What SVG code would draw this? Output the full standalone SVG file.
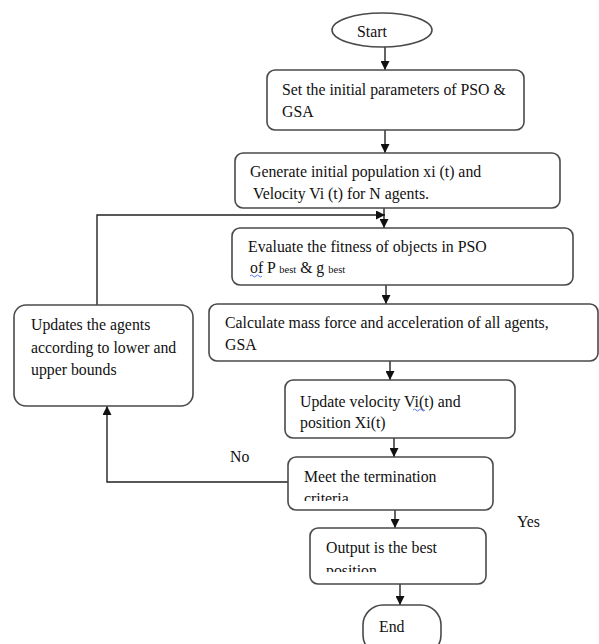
<svg xmlns="http://www.w3.org/2000/svg" width="599" height="644" viewBox="0 0 599 644">
<style>
.box{fill:#fff;stroke:#4a4a4a;stroke-width:1.6}
.t{font-family:"Liberation Serif","Times New Roman",serif;font-size:15.8px;fill:#111}
.sub{font-size:10.5px}
.c{fill:none;stroke:#222;stroke-width:1.4}
.sq{fill:none;stroke:#3355ee;stroke-width:0.8}
</style>
<defs>
<marker id="ah" viewBox="0 0 10 10" refX="10" refY="5" markerWidth="9" markerHeight="9" markerUnits="userSpaceOnUse" orient="auto">
<path d="M0,0 L10,5 L0,10 z" fill="#111"/>
</marker>
<clipPath id="c2"><rect x="235" y="153" width="325" height="54"/></clipPath>
<clipPath id="c6"><rect x="288" y="457" width="205" height="44"/></clipPath>
<clipPath id="c7"><rect x="310" y="528" width="176" height="44"/></clipPath>
</defs>
<rect width="599" height="644" fill="#fff"/>
<g id="connectors">
<line class="c" x1="385" y1="47" x2="385" y2="70" marker-end="url(#ah)"/>
<line class="c" x1="385" y1="130" x2="385" y2="153" marker-end="url(#ah)"/>
<line class="c" x1="384" y1="208" x2="384" y2="228" marker-end="url(#ah)"/>
<polyline class="c" points="97,305 97,215 385,215" marker-end="url(#ah)"/>
<line class="c" x1="386" y1="285" x2="386" y2="304" marker-end="url(#ah)"/>
<line class="c" x1="390" y1="361" x2="390" y2="380" marker-end="url(#ah)"/>
<line class="c" x1="394" y1="438" x2="394" y2="457" marker-end="url(#ah)"/>
<polyline class="c" points="288,482 107,482 107,406" marker-end="url(#ah)"/>
<line class="c" x1="395" y1="510" x2="395" y2="528" marker-end="url(#ah)"/>
<line class="c" x1="400" y1="584" x2="400" y2="605" marker-end="url(#ah)"/>
<text class="t" x="230" y="462">No</text>
<text class="t" x="517" y="527">Yes</text>
</g>
<g id="start">
<ellipse class="box" cx="382" cy="30" rx="50" ry="17"/>
<text class="t" x="357" y="37">Start</text>
</g>
<g id="init">
<rect class="box" x="267" y="70" width="257" height="60" rx="8"/>
<text class="t" x="282" y="95">Set the initial parameters of PSO &amp;</text>
<text class="t" x="282" y="117">GSA</text>
</g>
<g id="generate">
<rect class="box" x="235" y="153" width="325" height="55" rx="8"/>
<text class="t" x="250" y="177">Generate initial population xi (t) and</text>
<text class="t" x="253" y="199" clip-path="url(#c2)">Velocity Vi (t) for N agents.</text>
</g>
<g id="evaluate">
<rect class="box" x="232" y="228" width="341" height="57" rx="8"/>
<text class="t" x="248" y="252">Evaluate the fitness of objects in PSO</text>
<text class="t" x="250" y="273">of P <tspan class="sub">best</tspan> &amp; g <tspan class="sub">best</tspan></text>
<path class="sq" d="M250,276 q1.5,-2 3,0 t3,0 t3,0 t3,0"/>
</g>
<g id="calculate">
<rect class="box" x="209" y="304" width="389" height="57" rx="8"/>
<text class="t" x="225" y="328">Calculate mass force and acceleration of all agents,</text>
<text class="t" x="225" y="350">GSA</text>
</g>
<g id="update">
<rect class="box" x="285" y="380" width="230" height="58" rx="8"/>
<text class="t" x="300" y="407">Update velocity Vi(t) and</text>
<text class="t" x="300" y="428">position Xi(t)</text>
<path class="sq" d="M413,410 q1.5,-2 3,0 t3,0 t3,0 t3,0"/>
</g>
<g id="terminate">
<rect class="box" x="288" y="457" width="205" height="53" rx="8"/>
<text class="t" x="304" y="482">Meet the termination</text>
<text class="t" x="304" y="504" clip-path="url(#c6)">criteria</text>
</g>
<g id="output">
<rect class="box" x="310" y="528" width="176" height="56" rx="8"/>
<text class="t" x="326" y="553">Output is the best</text>
<text class="t" x="326" y="576" clip-path="url(#c7)">position</text>
</g>
<g id="end">
<rect class="box" x="363" y="605" width="78" height="50" rx="20"/>
<text class="t" x="379" y="632">End</text>
</g>
<g id="updates-agents">
<rect class="box" x="14" y="305" width="179" height="101" rx="12"/>
<text class="t" x="31" y="330">Updates the agents</text>
<text class="t" x="31" y="353">according to lower and</text>
<text class="t" x="31" y="375">upper bounds</text>
</g>
</svg>
